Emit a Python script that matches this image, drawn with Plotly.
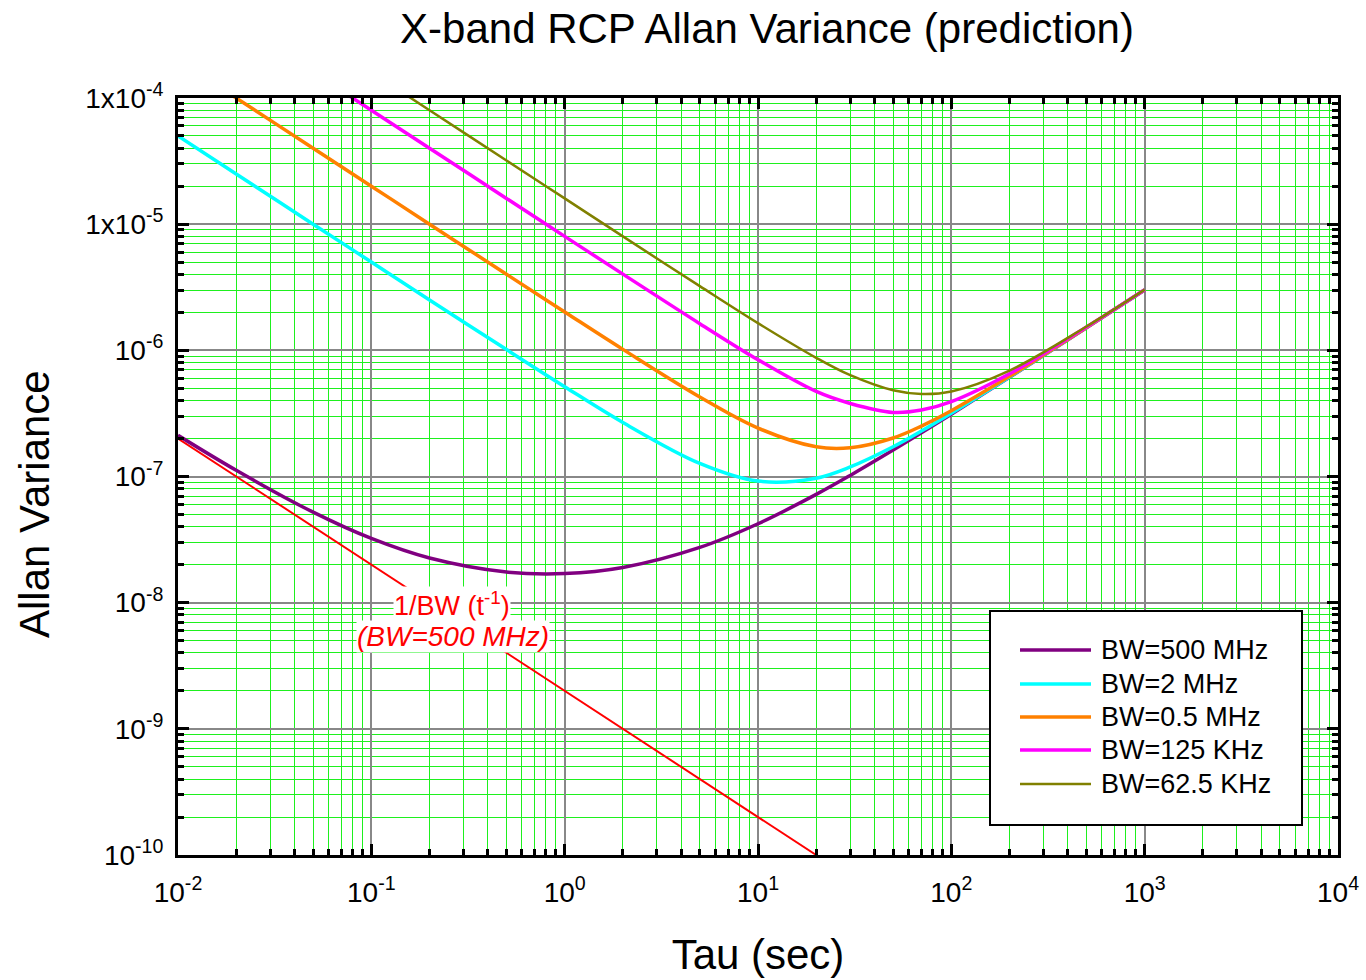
import plotly.graph_objects as go

# ---- data ----
tau = [0.01, 0.02, 0.05, 0.1, 0.2, 0.5, 1, 2, 5, 10, 20, 30, 50, 70, 100, 200, 500, 1000]

av_500mhz = [2.12e-7, 1.12e-7, 5.22e-8, 3.23e-8, 2.26e-8, 1.75e-8, 1.70e-8, 1.90e-8, 2.74e-8,
             4.22e-8, 7.21e-8, 1.02e-7, 1.62e-7, 2.22e-7, 3.12e-7, 6.12e-7, 1.512e-6, 3.012e-6]
av_2mhz = [5.0e-5, 2.5e-5, 1.0e-5, 5.01e-6, 2.51e-6, 1.014e-6, 5.15e-7, 2.68e-7, 1.27e-7,
           9.2e-8, 9.7e-8, 1.19e-7, 1.72e-7, 2.29e-7, 3.17e-7, 6.15e-7, 1.513e-6, 3.013e-6]
av_05mhz = [2.0e-4, 1.0e-4, 4.0e-5, 2.0e-5, 1.0e-5, 4.01e-6, 2.015e-6, 1.018e-6, 4.27e-7,
            2.42e-7, 1.72e-7, 1.69e-7, 2.02e-7, 2.51e-7, 3.32e-7, 6.22e-7, 1.516e-6, 3.014e-6]
av_125khz = [8.0e-4, 4.0e-4, 1.6e-4, 8.0e-5, 4.0e-5, 1.6e-5, 8.0e-6, 4.02e-6, 1.627e-6,
             8.42e-7, 4.72e-7, 3.79e-7, 3.22e-7, 3.36e-7, 3.92e-7, 6.52e-7, 1.528e-6, 3.02e-6]
av_625khz = [1.6e-3, 8.0e-4, 3.2e-4, 1.6e-4, 8.0e-5, 3.2e-5, 1.6e-5, 8.0e-6, 3.227e-6,
             1.642e-6, 8.72e-7, 6.35e-7, 4.82e-7, 4.51e-7, 4.72e-7, 6.92e-7, 1.544e-6, 3.028e-6]

ref_tau = [0.01, 20]
ref_av = [2.0e-7, 1.0e-10]

series_names = ["BW=500 MHz", "BW=2 MHz", "BW=0.5 MHz", "BW=125 KHz", "BW=62.5 KHz"]
series_vals = [av_500mhz, av_2mhz, av_05mhz, av_125khz, av_625khz]
series_colors = ["#800080", "#00FFFF", "#FF8000", "#FF00FF", "#808000"]
series_widths = [3.5, 3.5, 3.5, 3.5, 2.5]

x_tickvals = [1e-2, 1e-1, 1e0, 1e1, 1e2, 1e3, 1e4]
x_ticktext = ["10<sup>-2</sup>", "10<sup>-1</sup>", "10<sup>0</sup>", "10<sup>1</sup>",
              "10<sup>2</sup>", "10<sup>3</sup>", "10<sup>4</sup>"]
y_tickvals = [1e-4, 1e-5, 1e-6, 1e-7, 1e-8, 1e-9, 1e-10]
y_ticktext = ["1x10<sup>-4</sup>", "1x10<sup>-5</sup>", "10<sup>-6</sup>", "10<sup>-7</sup>",
              "10<sup>-8</sup>", "10<sup>-9</sup>", "10<sup>-10</sup>"]

FONT = "Liberation Sans, Arial, Helvetica, sans-serif"

# plot-area geometry in pixels (for layout elements only)
PL, PR, PT, PB = 178, 1338, 98, 855


def px(xp):
    return (xp - PL) / (PR - PL)


def py(yp):
    return (PB - yp) / (PB - PT)


fig = go.Figure()

fig.add_trace(go.Scatter(x=ref_tau, y=ref_av, mode="lines", showlegend=False,
                         line=dict(color="#FF0000", width=2)))

for name, vals, col, w in zip(series_names, series_vals, series_colors, series_widths):
    fig.add_trace(go.Scatter(x=tau, y=vals, mode="lines", name=name, showlegend=False,
                             line=dict(color=col, width=w, shape="spline", smoothing=1.0)))


def minor_vals(lo, hi):
    out = []
    for e in range(lo, hi):
        for m in range(2, 10):
            out.append(m * 10.0 ** e)
    return out


grid_green = "rgb(30,240,30)"
grid_gray = "#888888"

common = dict(type="log", showline=True, linecolor="black", linewidth=3, mirror="allticks",
              ticks="inside", ticklen=11, tickwidth=2.5, tickcolor="black",
              showgrid=True, gridcolor=grid_gray, gridwidth=2, zeroline=False,
              tickfont=dict(family=FONT, size=28, color="black"))

fig.update_xaxes(**common, range=[-2, 4], tickmode="array", tickvals=x_tickvals, ticktext=x_ticktext,
                 minor=dict(tickmode="array", tickvals=minor_vals(-2, 4), ticks="inside", ticklen=6,
                            tickwidth=2.5, tickcolor="black", showgrid=True, gridcolor=grid_green, gridwidth=1),
                 title=dict(text="Tau (sec)", font=dict(family=FONT, size=42, color="black"), standoff=34),
                 ticklabelstandoff=10, automargin=False)
fig.update_yaxes(**common, range=[-10, -4], tickmode="array", tickvals=y_tickvals, ticktext=y_ticktext,
                 minor=dict(tickmode="array", tickvals=minor_vals(-10, -4), ticks="inside", ticklen=6,
                            tickwidth=2.5, tickcolor="black", showgrid=True, gridcolor=grid_green, gridwidth=1),
                 ticklabelstandoff=6, automargin=False)

fig.update_layout(
    width=1366, height=980,
    margin=dict(l=PL, r=1366 - PR, t=PT, b=980 - PB),
    paper_bgcolor="white", plot_bgcolor="white",
    font=dict(family=FONT, color="black"),
    title=dict(text="X-band RCP Allan Variance (prediction)", x=0.5615, xanchor="center",
               y=0.971, yanchor="middle", font=dict(family=FONT, size=42, color="black")),
    showlegend=False,
)

# y-axis title (offset below plot centre as in the reference)
fig.add_annotation(x=px(34), y=py(504), xref="paper", yref="paper", showarrow=False,
                   text="Allan Variance", textangle=-90, xanchor="center", yanchor="middle",
                   font=dict(family=FONT, size=42, color="black"))

# reference-line labels
fig.add_annotation(x=px(452), y=py(604), xref="paper", yref="paper", showarrow=False,
                   xanchor="center", yanchor="middle",
                   text="1/BW (t<sup>-1</sup>)", bgcolor="white", borderpad=0,
                   font=dict(family=FONT, size=27, color="#FF0000"))
fig.add_annotation(x=px(453), y=py(637), xref="paper", yref="paper", showarrow=False,
                   xanchor="center", yanchor="middle",
                   text="<i>(BW=500 MHz)</i>", bgcolor="white", borderpad=0,
                   font=dict(family=FONT, size=28, color="#FF0000"))

# legend box drawn as layout elements
fig.add_shape(type="rect", xref="paper", yref="paper", x0=px(990), x1=px(1302), y0=py(825), y1=py(611),
              line=dict(color="black", width=2), fillcolor="white", layer="above")
legend_y = [650, 684, 717, 750, 784]
for name, col, w, ly in zip(series_names, series_colors, series_widths, legend_y):
    fig.add_shape(type="line", xref="paper", yref="paper", x0=px(1020), x1=px(1091), y0=py(ly), y1=py(ly),
                  line=dict(color=col, width=w), layer="above")
    fig.add_annotation(x=px(1099), y=py(ly), xref="paper", yref="paper", showarrow=False,
                       xanchor="left", yanchor="middle", text=name,
                       font=dict(family=FONT, size=27, color="black"))

fig.write_html("out.html")
